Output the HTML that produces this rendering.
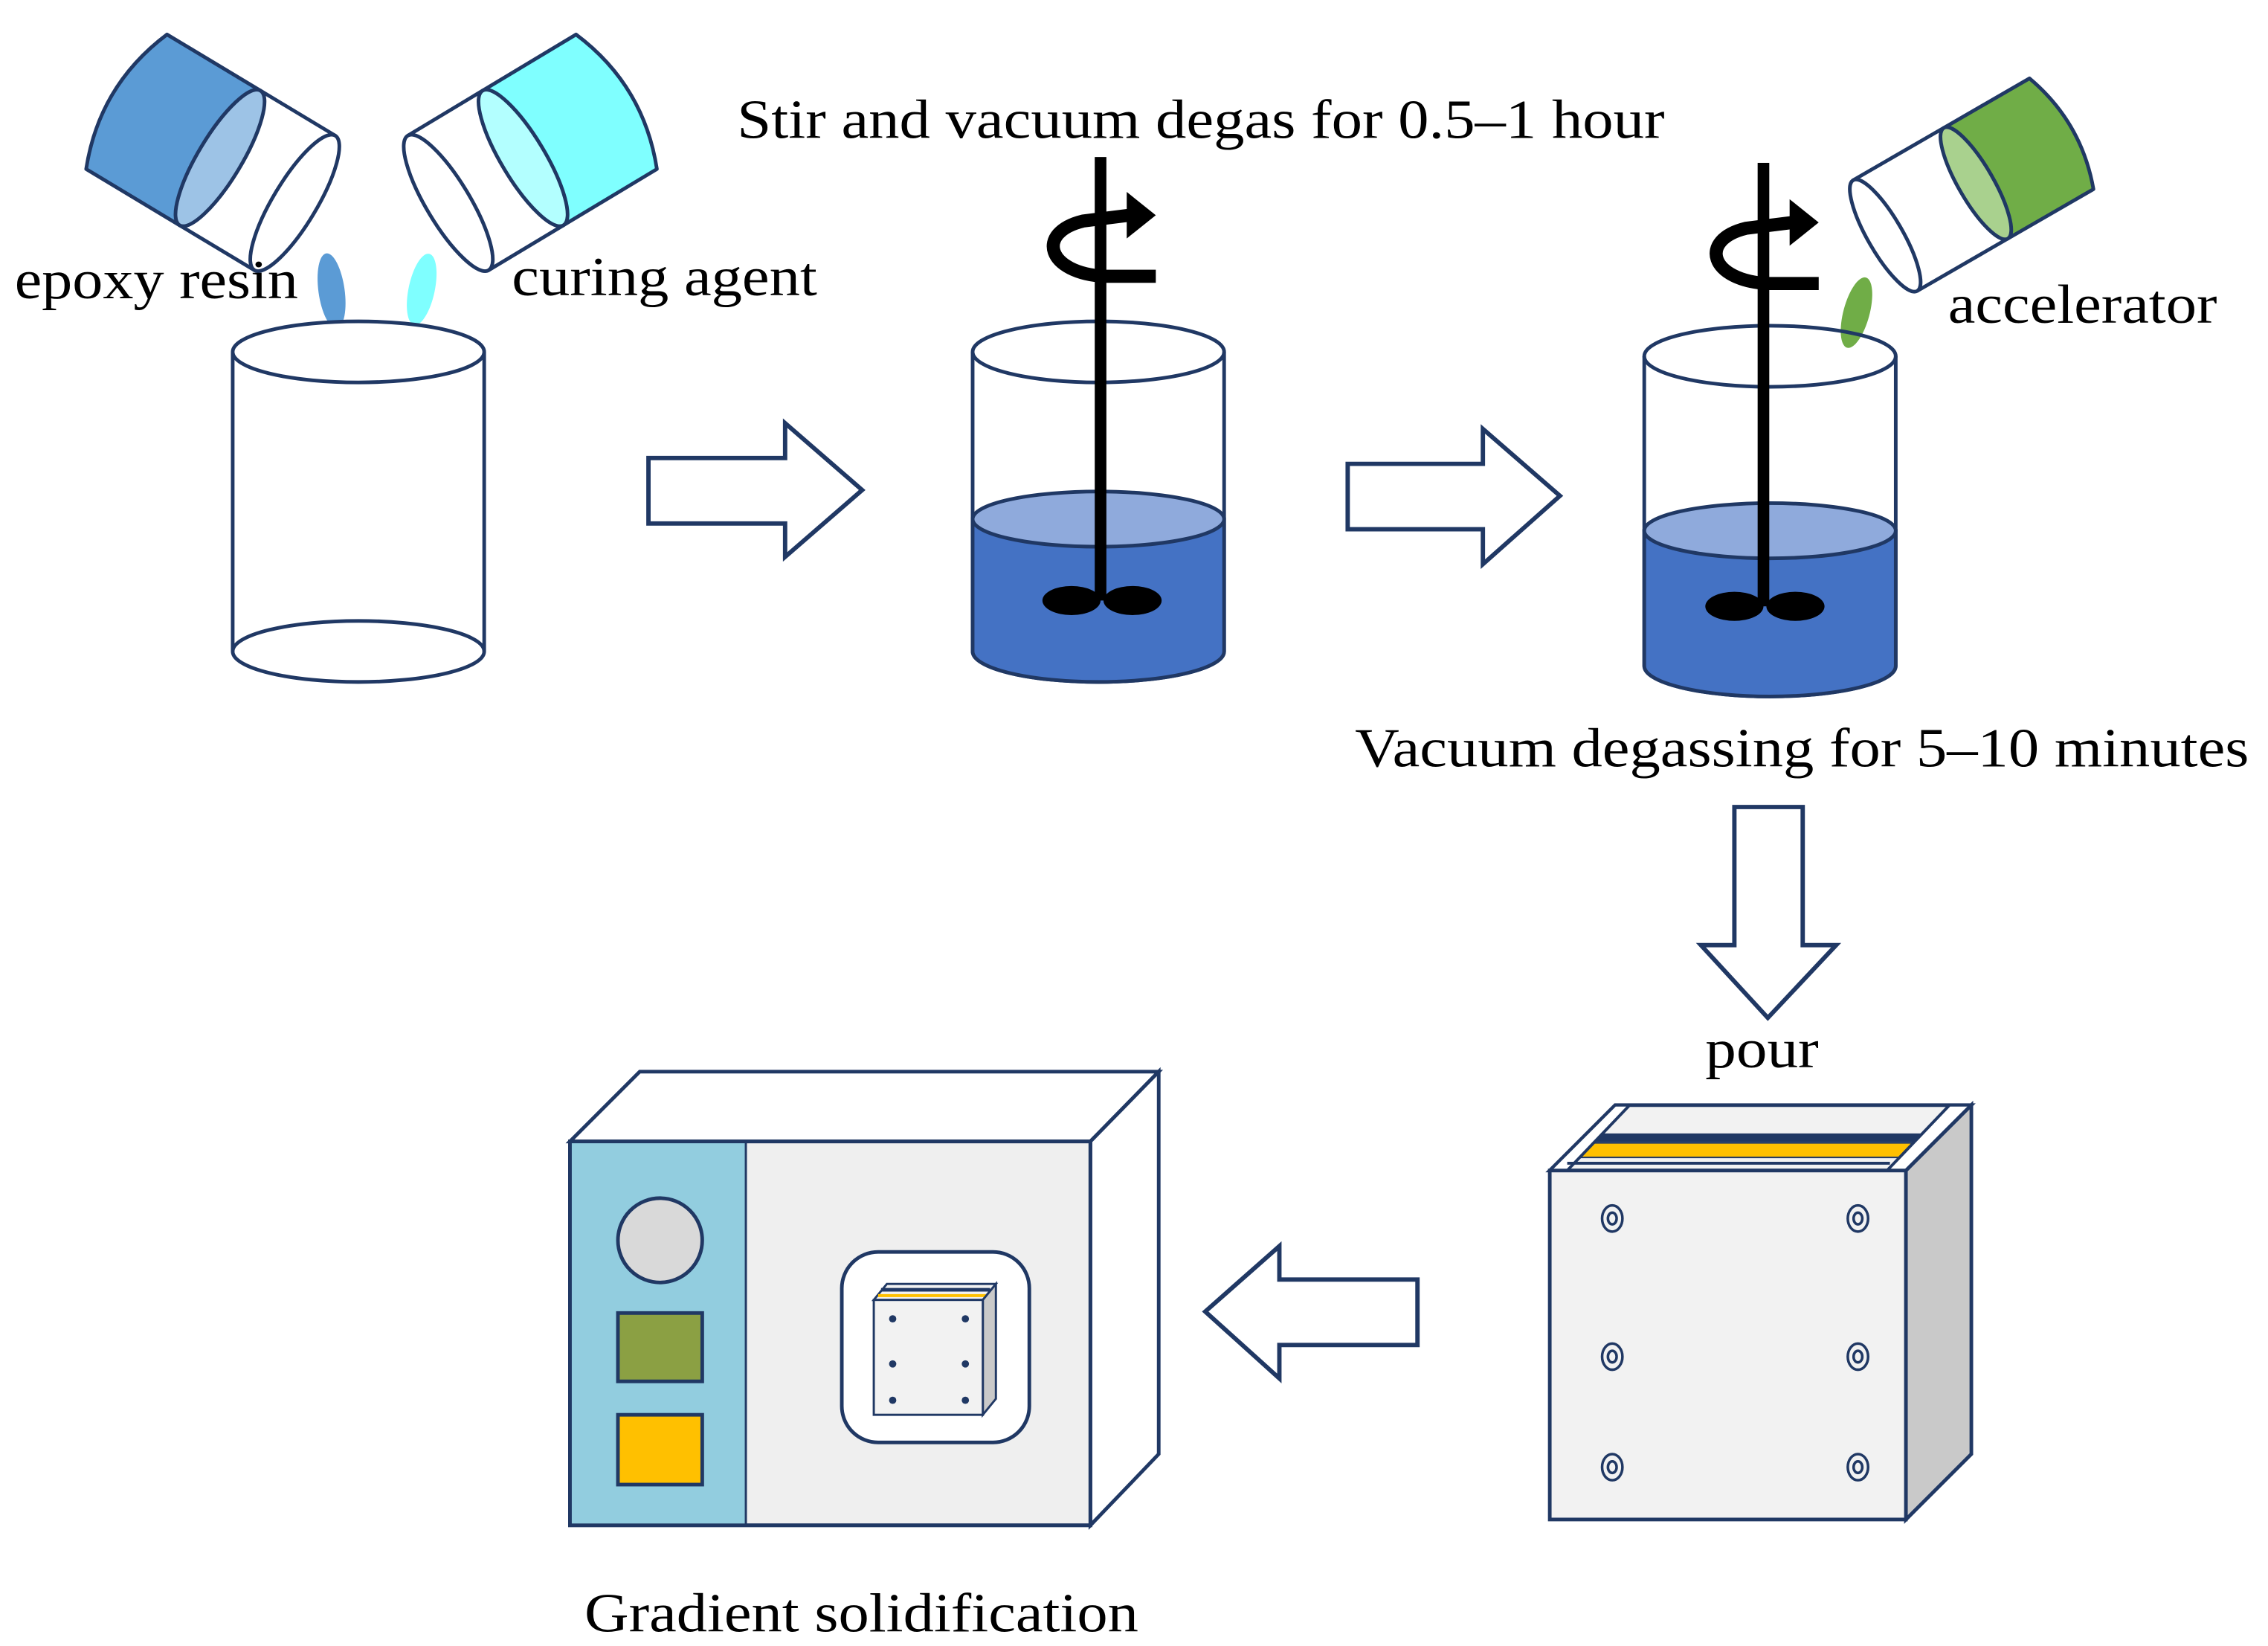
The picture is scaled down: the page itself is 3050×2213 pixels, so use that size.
<!DOCTYPE html>
<html><head><meta charset="utf-8"><style>html,body{margin:0;padding:0;background:#fff}svg{display:block}</style></head>
<body>
<svg width="3050" height="2213" viewBox="0 0 1560 1132" xmlns="http://www.w3.org/2000/svg" font-family="Liberation Serif, serif">
<rect width="1560" height="1132" fill="#fff"/>
<g stroke="#203864" stroke-width="2.5" stroke-linejoin="round">
<!-- epoxy bottle -->
<g transform="translate(87,70) rotate(31)">
<path d="M0,-54 L75,-54 L75,54 L0,54 Q-22,0 0,-54Z" fill="#5B9BD5"/>
<path d="M75,-54 L135,-54 L135,54 L75,54Z" fill="#fff"/>
<ellipse cx="75" cy="0" rx="15" ry="54" fill="#9DC3E6"/>
<ellipse cx="135" cy="0" rx="15" ry="54" fill="#fff"/>
</g>
<!-- curing bottle -->
<g transform="translate(424,70) rotate(149)">
<path d="M0,-54 L75,-54 L75,54 L0,54 Q-22,0 0,-54Z" fill="#7FFFFF"/>
<path d="M75,-54 L135,-54 L135,54 L75,54Z" fill="#fff"/>
<ellipse cx="75" cy="0" rx="15" ry="54" fill="#B3FFFF"/>
<ellipse cx="135" cy="0" rx="15" ry="54" fill="#fff"/>
</g>
<!-- accelerator bottle -->
<g transform="translate(1418,92) rotate(150)">
<path d="M0,-44 L68,-44 L68,44 L0,44 Q-16,0 0,-44Z" fill="#70AD47"/>
<path d="M68,-44 L140,-44 L140,44 L68,44Z" fill="#fff"/>
<ellipse cx="68" cy="0" rx="12" ry="44" fill="#A9D18E"/>
<ellipse cx="140" cy="0" rx="12" ry="44" fill="#fff"/>
</g>
</g>
<!-- drops -->
<ellipse cx="228" cy="200" rx="9" ry="26" fill="#5B9BD5" transform="rotate(-8 228 200)"/>
<ellipse cx="290" cy="199" rx="9" ry="25" fill="#7FFFFF" transform="rotate(12 290 199)"/>
<ellipse cx="1277" cy="215" rx="9" ry="25" fill="#70AD47" transform="rotate(15 1277 215)"/>

<g stroke="#203864" stroke-width="2.5">
<!-- beaker 1 -->
<path d="M160,242 L160,448 A86.5,21 0 0 0 333,448 L333,242" fill="#fff"/>
<path d="M160,448 A86.5,21 0 0 1 333,448" fill="none"/>
<ellipse cx="246.5" cy="242" rx="86.5" ry="21" fill="#fff"/>
<!-- beaker 2 -->
<path d="M669,242 L669,448 A86.5,21 0 0 0 842,448 L842,242" fill="#fff"/>
<path d="M669,357 L669,448 A86.5,21 0 0 0 842,448 L842,357Z" fill="#4472C4"/>
<ellipse cx="755.5" cy="357" rx="86.5" ry="19" fill="#8FAADC"/>
<ellipse cx="755.5" cy="242" rx="86.5" ry="21" fill="none"/>
<!-- beaker 3 -->
<path d="M1131,245 L1131,458 A86.5,21 0 0 0 1304,458 L1304,245" fill="#fff"/>
<path d="M1131,365 L1131,458 A86.5,21 0 0 0 1304,458 L1304,365Z" fill="#4472C4"/>
<ellipse cx="1217.5" cy="365" rx="86.5" ry="19" fill="#8FAADC"/>
<ellipse cx="1217.5" cy="245" rx="86.5" ry="21" fill="none"/>
</g>
<!-- stirrers -->
<g fill="#000">
<rect x="753" y="108" width="8" height="305"/>
<ellipse cx="737" cy="413" rx="20" ry="10"/><ellipse cx="779" cy="413" rx="20" ry="10"/>
<path d="M795,190 L760,190 C720,188 712,160 745,152 L777,148" fill="none" stroke="#000" stroke-width="9"/>
<polygon points="775,132 795,148 775,164"/>
<rect x="1209" y="112" width="8" height="305"/>
<ellipse cx="1193" cy="417" rx="20" ry="10"/><ellipse cx="1235" cy="417" rx="20" ry="10"/>
<path d="M1251,195 L1216,195 C1176,193 1168,165 1201,157 L1233,153" fill="none" stroke="#000" stroke-width="9"/>
<polygon points="1231,137 1251,153 1231,169"/>
</g>
<!-- arrows -->
<g fill="#fff" stroke="#203864" stroke-width="3" stroke-linejoin="miter">
<polygon points="446,315 540,315 540,291 593,337 540,383 540,360 446,360"/>
<polygon points="927,319 1020,319 1020,295 1073,341 1020,388 1020,364 927,364"/>
<polygon points="1193,555 1240,555 1240,650 1263,650 1216,700 1170,650 1193,650"/>
<polygon points="975,880 880,880 880,857 829,902 880,948 880,925 975,925"/>
</g>
<!-- oven -->
<g stroke="#203864" stroke-width="2.5">
<polygon points="392,785 440,737 797,737 750,785" fill="#fff"/>
<polygon points="750,785 797,737 797,1000 750,1049" fill="#fff"/>
<rect x="392" y="785" width="358" height="264" fill="#EFEFEF"/>
<rect x="392" y="785" width="121" height="264" fill="#92CDDF" stroke-width="1.5"/>
<rect x="392" y="785" width="358" height="264" fill="none"/>
<circle cx="454" cy="853" r="29" fill="#D9D9D9"/>
<rect x="425" y="903" width="58" height="47" fill="#8BA043"/>
<rect x="425" y="973" width="58" height="48" fill="#FFC000"/>
<rect x="579" y="861" width="129" height="131" rx="25" fill="#fff"/>
<polygon points="601,894 610,883 685,883 676,894" fill="#F2F2F2" stroke-width="1.5"/>
<line x1="606" y1="887" x2="681" y2="887" stroke-width="2.5"/>
<line x1="604" y1="891" x2="679" y2="891" stroke="#FFC000" stroke-width="2"/>
<polygon points="676,894 685,883 685,962 676,973" fill="#C9C9C9" stroke-width="1.5"/>
<rect x="601" y="894" width="75" height="79" fill="#F2F2F2" stroke-width="1.5"/>
</g>
<g fill="#203864">
<circle cx="614" cy="907" r="2.5"/><circle cx="664" cy="907" r="2.5"/>
<circle cx="614" cy="938" r="2.5"/><circle cx="664" cy="938" r="2.5"/>
<circle cx="614" cy="963" r="2.5"/><circle cx="664" cy="963" r="2.5"/>
</g>
<!-- mold -->
<g stroke="#203864" stroke-width="2.5">
<polygon points="1066,805 1111,760 1356,760 1311,805" fill="#F2F2F2"/>
<polygon points="1090,780 1322,780 1318,785 1087,785" fill="#203864" stroke-width="1"/>
<polygon points="1086,786 1318,786 1312,796 1080,796" fill="#FFC000" stroke-width="1"/>
<polygon points="1066,805 1111,760 1121,760 1078,805" fill="#fff" stroke-width="2"/>
<polygon points="1298,805 1341,760 1356,760 1311,805" fill="#fff" stroke-width="2"/>
<line x1="1078" y1="800" x2="1300" y2="800" stroke-width="2"/>
<polygon points="1311,805 1356,760 1356,1000 1311,1045" fill="#C9C9C9"/>
<rect x="1066" y="805" width="245" height="240" fill="#F2F2F2"/>
</g>
<g fill="none" stroke="#203864" stroke-width="1.8">
<ellipse cx="1109" cy="838" rx="7" ry="9"/><ellipse cx="1109" cy="838" rx="3" ry="4"/>
<ellipse cx="1278" cy="838" rx="7" ry="9"/><ellipse cx="1278" cy="838" rx="3" ry="4"/>
<ellipse cx="1109" cy="933" rx="7" ry="9"/><ellipse cx="1109" cy="933" rx="3" ry="4"/>
<ellipse cx="1278" cy="933" rx="7" ry="9"/><ellipse cx="1278" cy="933" rx="3" ry="4"/>
<ellipse cx="1109" cy="1009" rx="7" ry="9"/><ellipse cx="1109" cy="1009" rx="3" ry="4"/>
<ellipse cx="1278" cy="1009" rx="7" ry="9"/><ellipse cx="1278" cy="1009" rx="3" ry="4"/>
</g>
<!-- text -->
<g font-size="38" fill="#000">
<text x="507" y="95" textLength="638" lengthAdjust="spacingAndGlyphs">Stir and vacuum degas for 0.5–1 hour</text>
<text x="10" y="205" textLength="195" lengthAdjust="spacingAndGlyphs">epoxy resin</text>
<text x="352" y="203" textLength="210" lengthAdjust="spacingAndGlyphs">curing agent</text>
<text x="1340" y="222" textLength="185" lengthAdjust="spacingAndGlyphs">accelerator</text>
<text x="932" y="527" textLength="615" lengthAdjust="spacingAndGlyphs">Vacuum degassing for 5–10 minutes</text>
<text x="1173" y="734" textLength="78" lengthAdjust="spacingAndGlyphs">pour</text>
<text x="402" y="1122" textLength="381" lengthAdjust="spacingAndGlyphs">Gradient solidification</text>
</g>
</svg>
</body></html>
